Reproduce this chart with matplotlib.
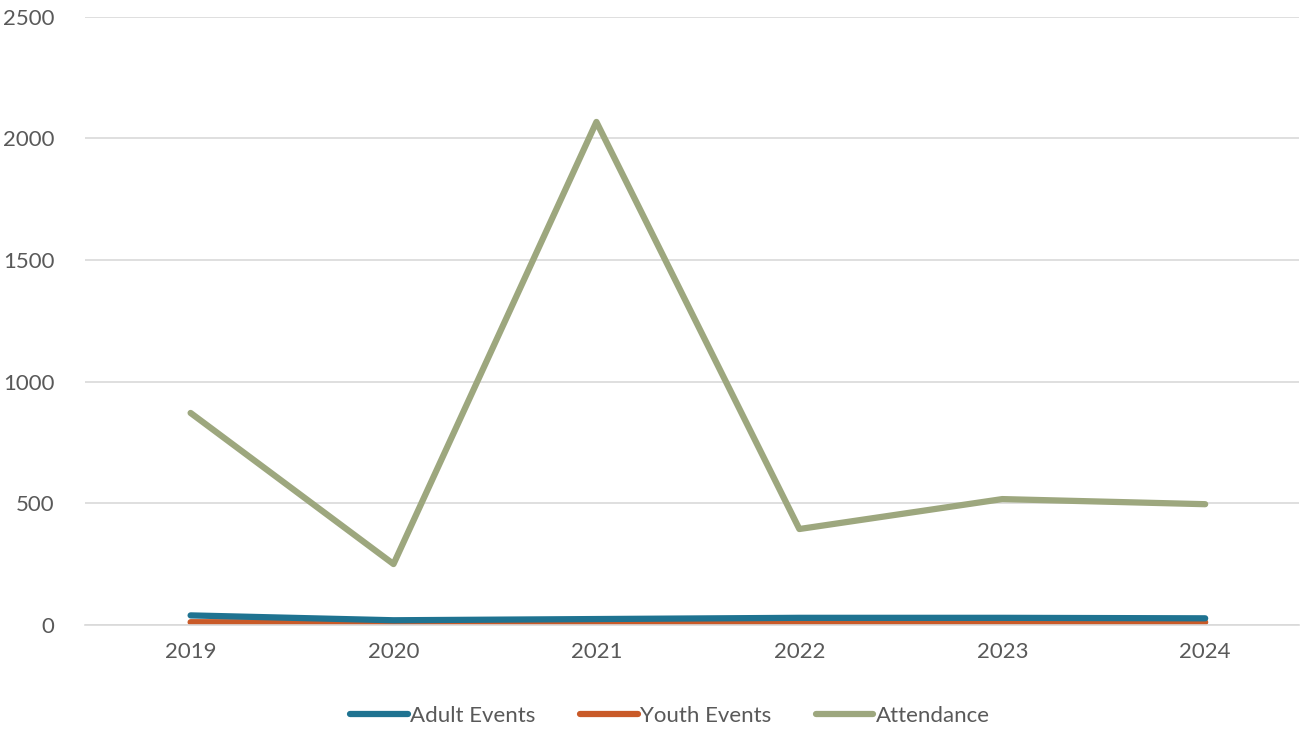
import matplotlib.pyplot as plt

years = ['2019', '2020', '2021', '2022', '2023', '2024']
adult_events = [40, 20, 25, 30, 30, 28]
youth_events = [12, 11, 12, 12, 12, 12]
attendance = [872, 251, 2068, 395, 518, 497]

plt.rcParams['font.family'] = ['Lato', 'DejaVu Sans']

fig = plt.figure(figsize=(13.09, 7.32), dpi=100)
ax = fig.add_axes([0.065, 0.146, 0.927, 0.831])

x = range(len(years))
ax.plot(x, adult_events, color='#1F7391', lw=4.5, solid_capstyle='round', label='Adult Events', zorder=3)
ax.plot(x, youth_events, color='#C95A28', lw=4.5, solid_capstyle='round', label='Youth Events', zorder=2)
ax.plot(x, attendance, color='#9DA77E', lw=4.5, solid_capstyle='round', label='Attendance', zorder=4)

ax.set_xlim(-0.52, 5.46)
ax.set_ylim(0, 2500)
ax.set_yticks(range(0, 2501, 500))
ax.set_xticks(list(x))
ax.set_xticklabels(years)
ax.grid(axis='y', color='#D9D9D9', lw=1.2)
ax.set_axisbelow(True)
for s in ['top', 'right', 'left']:
    ax.spines[s].set_visible(False)
ax.spines['bottom'].set_color('#D9D9D9')
ax.spines['bottom'].set_linewidth(1.2)
ax.tick_params(axis='both', length=0, labelsize=16, colors='#595959', pad=12)
ax.tick_params(axis='y', pad=22)

ax.legend(loc='upper center', bbox_to_anchor=(0.482, -0.1), ncol=3, frameon=False,
          fontsize=16, labelcolor='#595959', handlelength=2.6, handletextpad=0.1,
          columnspacing=2.0)

fig.savefig('out.png', dpi=100)
